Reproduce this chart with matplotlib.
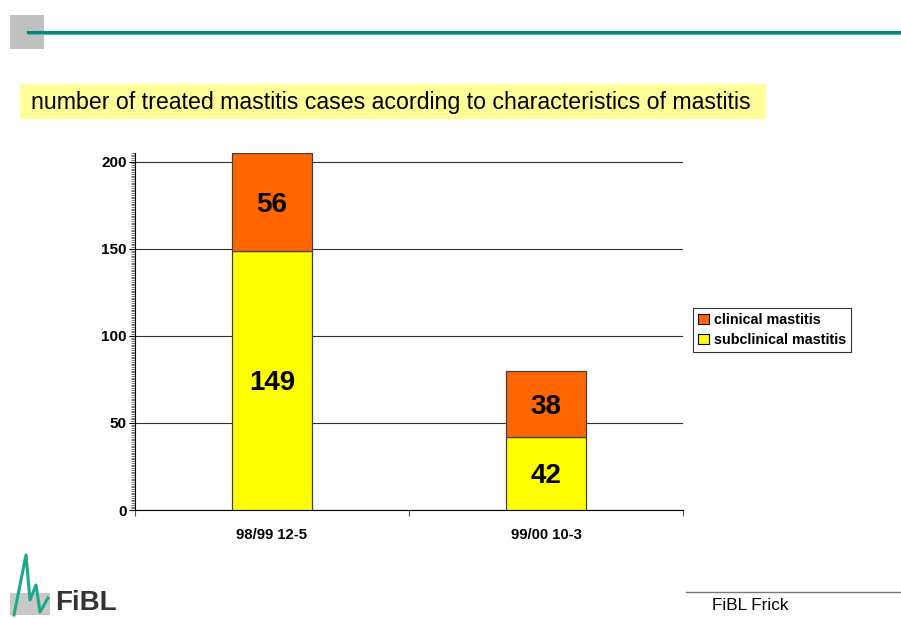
import matplotlib
matplotlib.use("Agg")
import matplotlib.pyplot as plt
from matplotlib.patches import Rectangle, Patch
from matplotlib.lines import Line2D
import numpy as np

plt.rcParams['font.family'] = ['Liberation Sans', 'DejaVu Sans']

categories = ["98/99 12-5", "99/00 10-3"]
subclinical = [149, 42]
clinical = [56, 38]
series_names = ["clinical mastitis", "subclinical mastitis"]
yticks = [0, 50, 100, 150, 200]
title = "number of treated mastitis cases acording to characteristics of mastitis"

fig = plt.figure(figsize=(9.01, 6.19), dpi=100)

# header decorations
fig.patches.append(Rectangle((10/901, 1-49/619), 34/901, 34/619, transform=fig.transFigure,
                             facecolor='#c0c0c0', edgecolor='none', zorder=0))
fig.add_artist(Line2D([28/901, 1], [1-32/619, 1-32/619], transform=fig.transFigure,
                      color='#008878', lw=2.2))
fig.add_artist(Line2D([28/901, 1], [1-33.5/619, 1-33.5/619], transform=fig.transFigure,
                      color='#4ab8a8', lw=0.8))

# title box
fig.patches.append(Rectangle((20/901, 1-119/619), 746/901, 35/619, transform=fig.transFigure,
                             facecolor='#ffff99', edgecolor='none', zorder=0))
fig.text(31/901, 1-102/619, title, fontsize=16.7, va='center', ha='left', color='black')

ax = fig.add_axes([135/901, 1-510/619, 548/901, 357/619])
x = np.arange(len(categories))
w = 0.293
edge = '#404040'
ax.bar(x, subclinical, w, color='#ffff00', edgecolor=edge, lw=0.9, zorder=3)
ax.bar(x, clinical, w, bottom=subclinical, color='#ff6600', edgecolor=edge, lw=0.9, zorder=3)
for i in range(len(categories)):
    ax.annotate(str(subclinical[i]), (x[i], subclinical[i]/2), xytext=(0, -2),
                textcoords='offset points', ha='center', va='center',
                fontsize=20, fontweight='bold', zorder=4)
    ax.annotate(str(clinical[i]), (x[i], subclinical[i] + clinical[i]/2), xytext=(0, -2),
                textcoords='offset points', ha='center', va='center',
                fontsize=20, fontweight='bold', zorder=4)

ax.set_xlim(-0.5, 1.5)
ax.set_ylim(0, 205)
ax.set_yticks(yticks)
ax.set_yticks(np.arange(0, 206, 1), minor=True)
ax.tick_params(axis='y', which='major', length=4, width=0.8, labelsize=11, direction='out', pad=2)
ax.tick_params(axis='y', which='minor', length=3, width=0.5, direction='out', color='#444444')
ax.set_xticks(x)
ax.set_xticklabels(categories, fontsize=10.7, fontweight='bold')
ax.set_xticks([-0.5, 0.5, 1.5], minor=True)
ax.tick_params(axis='x', which='major', length=0, pad=13)
ax.tick_params(axis='x', which='minor', length=4, width=0.8, direction='out', color='#555555')
for lab in ax.get_yticklabels():
    lab.set_fontweight('bold')
ax.yaxis.grid(True, which='major', color='#333333', lw=0.8, zorder=0)
ax.set_axisbelow(True)
for s in ['top', 'right']:
    ax.spines[s].set_visible(False)
ax.spines['left'].set_linewidth(0.8)
ax.spines['bottom'].set_linewidth(0.8)

handles = [Patch(facecolor='#ff6600', edgecolor='black', lw=0.8),
           Patch(facecolor='#ffff00', edgecolor='black', lw=0.8)]
leg = fig.legend(handles, series_names, loc='upper left',
                 bbox_to_anchor=(693/901, 1-308/619), frameon=True, fancybox=False,
                 edgecolor='black', prop={'weight': 'bold', 'size': 10.4},
                 handlelength=0.75, handleheight=0.75, handletextpad=0.35,
                 borderpad=0.35, labelspacing=0.4, borderaxespad=0)
leg.get_frame().set_linewidth(0.8)

# footer
fig.add_artist(Line2D([686/901, 1], [1-592/619, 1-592/619], transform=fig.transFigure,
                      color='#777777', lw=1.0))
fig.text(712/901, 1-606/619, "FiBL Frick", fontsize=12.3, va='center', ha='left')

# logo approximation
fig.patches.append(Rectangle((10/901, 1-615/619), 40/901, 22/619, transform=fig.transFigure,
                             facecolor='#c8c8c8', edgecolor='none', zorder=0))
fig.add_artist(Line2D([14/901, 26/901, 30/901, 36/901, 40/901, 48/901],
                      [1-615/619, 1-555/619, 1-600/619, 1-585/619, 1-612/619, 1-598/619],
                      transform=fig.transFigure, color='#1aaa8a', lw=2.2))
fig.text(55/901, 1-603/619, "FiBL", fontsize=20, fontweight='bold', color='#333333',
         va='center', ha='left')

fig.savefig("out.png", dpi=100)
